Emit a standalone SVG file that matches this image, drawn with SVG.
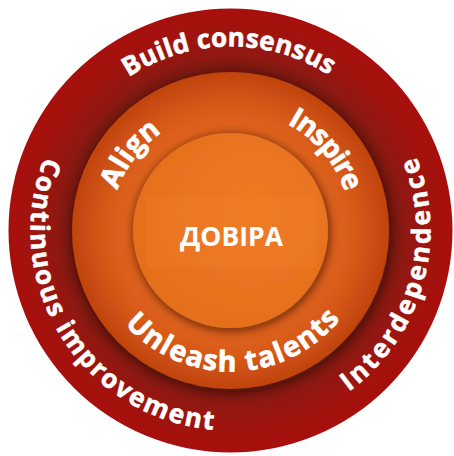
<svg xmlns="http://www.w3.org/2000/svg" width="454" height="456" viewBox="0 0 454 456">
  <style>
    .t { fill: #ffffff; font-family: "Open Sans", "Noto Sans", "DejaVu Sans", sans-serif; font-weight: 700; text-anchor: middle; }
    .o { font-size: 26px; stroke: #ffffff; stroke-width: 0.6px; }
    .m { font-size: 28.5px; stroke: #ffffff; stroke-width: 0.7px; }
    .c { font-size: 26.5px; }
  </style>
  <defs>
    <radialGradient id="gOuter" gradientUnits="userSpaceOnUse" cx="230.5" cy="230.5" r="222">
      <stop offset="0.70" stop-color="#6e1a10"/>
      <stop offset="0.79" stop-color="#901811"/>
      <stop offset="0.9" stop-color="#a1130e"/>
      <stop offset="1" stop-color="#a80f0c"/>
    </radialGradient>
    <radialGradient id="gMid" gradientUnits="userSpaceOnUse" cx="230.5" cy="230.5" r="158.5">
      <stop offset="0.6" stop-color="#e2671e"/>
      <stop offset="0.8" stop-color="#d75918"/>
      <stop offset="1" stop-color="#c0430f"/>
    </radialGradient>
    <radialGradient id="gCore" gradientUnits="userSpaceOnUse" cx="250" cy="210" r="120">
      <stop offset="0" stop-color="#ee7a24"/>
      <stop offset="1" stop-color="#e56f1d"/>
    </radialGradient>
    <filter id="shadow" x="-20%" y="-20%" width="140%" height="140%">
      <feDropShadow dx="1" dy="2" stdDeviation="5.5" flood-color="#340700" flood-opacity="0.8"/>
    </filter>
    <path id="pTop184" d="M 46.5 230.5 A 184 184 0 0 1 414.5 230.5"/>
    <path id="pTop120" d="M 110.5 230.5 A 120 120 0 0 1 350.5 230.5"/>
    <path id="pTop121" d="M 109.5 230.5 A 121 121 0 0 1 351.5 230.5"/>
    <path id="pBot200" d="M 30.5 230.5 A 200 200 0 0 0 430.5 230.5"/>
    <path id="pBot141" d="M 89.5 230.5 A 141 141 0 0 0 371.5 230.5"/>
  </defs>

  <g id="outer-ring">
    <circle cx="230.5" cy="230.5" r="222" fill="url(#gOuter)"/>
  </g>
  <g id="middle-ring">
    <circle cx="230.5" cy="230.5" r="158.5" fill="url(#gMid)" filter="url(#shadow)"/>
  </g>
  <g id="core">
    <circle cx="230.5" cy="230.5" r="97.5" fill="url(#gCore)" filter="url(#shadow)"/>
    <rect x="147" y="197" width="169" height="70" fill="#f07d28" opacity="0.35"/>
    <text class="t c" x="231.5" y="246">ДОВІРА</text>
  </g>

  <g id="label-build-consensus" transform="rotate(-0.6 230.5 230.5)">
    <text class="t o"><textPath href="#pTop184" startOffset="50%" textLength="212">Build consensus</textPath></text>
  </g>
  <g id="label-continuous-improvement" transform="rotate(58.25 230.5 230.5)">
    <text class="t o"><textPath href="#pBot200" startOffset="50%" textLength="372">Continuous improvement</textPath></text>
  </g>
  <g id="label-interdependence" transform="rotate(-73.95 230.5 230.5)">
    <text class="t o"><textPath href="#pBot200" startOffset="50%" textLength="263">Interdependence</textPath></text>
  </g>
  <g id="label-align" transform="rotate(-52.7 230.5 230.5)">
    <text class="t m"><textPath href="#pTop120" startOffset="50%" textLength="74">Align</textPath></text>
  </g>
  <g id="label-inspire" transform="rotate(49.8 230.5 230.5)">
    <text class="t m"><textPath href="#pTop121" startOffset="50%" textLength="92">Inspire</textPath></text>
  </g>
  <g id="label-unleash-talents" transform="rotate(-1.3 230.5 230.5)">
    <text class="t m"><textPath href="#pBot141" startOffset="50%" textLength="245">Unleash talents</textPath></text>
  </g>
</svg>
